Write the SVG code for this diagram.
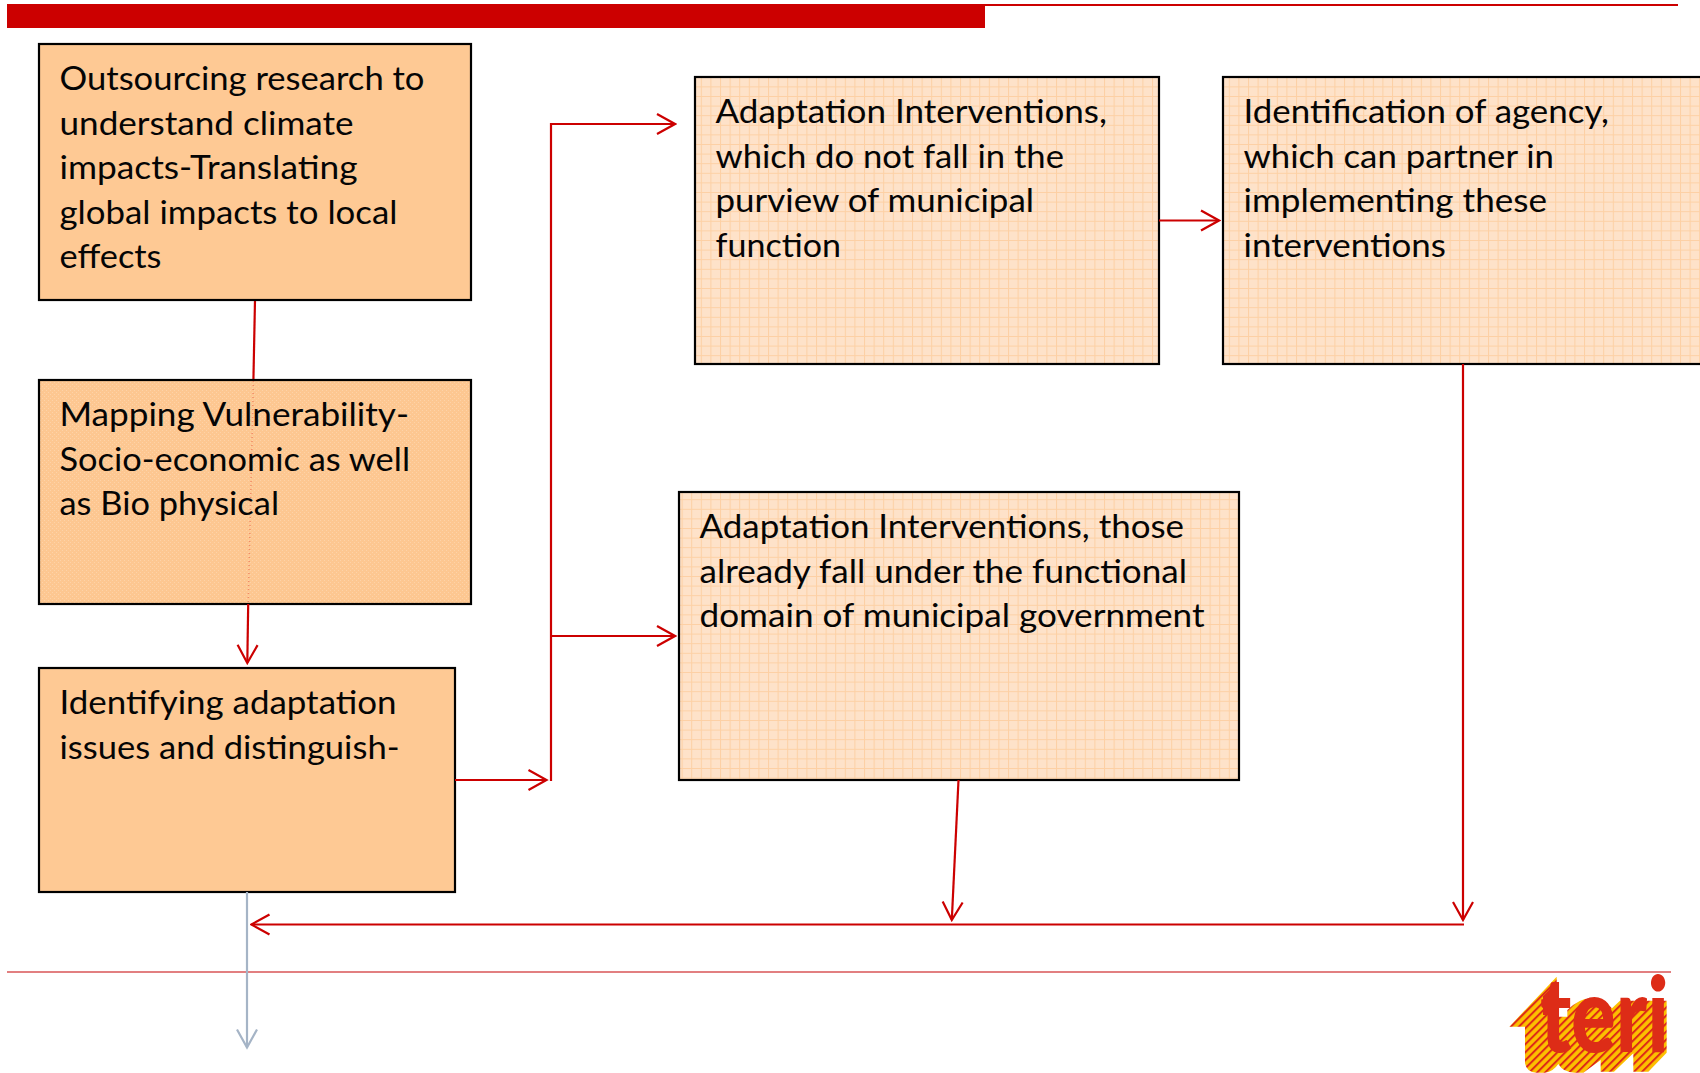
<svg xmlns="http://www.w3.org/2000/svg" width="1700" height="1073" viewBox="0 0 1700 1073">
<style>
.box{stroke:#000;stroke-width:2.2}
.solid{fill:#fec994}
.dot{fill:url(#dots)}
.grid{fill:url(#grid)}
.t{font-family:"Lato","Liberation Sans",sans-serif;font-size:33.5px;fill:#050505}
.c{fill:none;stroke:#cc0000;stroke-width:2.2}
</style>
<defs>
<marker id="a" viewBox="0 0 22 24" refX="20" refY="12" markerWidth="22" markerHeight="24" markerUnits="userSpaceOnUse" orient="auto"><path d="M2 2L20 12L2 22" fill="none" stroke="#cc0000" stroke-width="2.2"/></marker>
<marker id="b" viewBox="0 0 22 24" refX="20" refY="12" markerWidth="22" markerHeight="24" markerUnits="userSpaceOnUse" orient="auto"><path d="M2 2L20 12L2 22" fill="none" stroke="#a5b4c6" stroke-width="2.2"/></marker>
<pattern id="dots" width="4" height="4" patternUnits="userSpaceOnUse"><rect width="4" height="4" fill="#fdc791"/><rect width="1" height="1" fill="#fed3a8"/><rect x="2" y="2" width="1" height="1" fill="#fed3a8"/></pattern>
<pattern id="grid" width="9.6" height="9.6" patternUnits="userSpaceOnUse"><rect width="9.6" height="9.6" fill="#fee2c9"/><path d="M0 .5H9.6M.5 0V9.6" stroke="#fdd0a4" stroke-width="1"/></pattern>
<pattern id="hatch" width="17" height="17" patternUnits="userSpaceOnUse" patternTransform="rotate(-45)"><rect width="17" height="17" fill="#fcc000"/><rect width="17" height="6" fill="#dd2c17"/></pattern>
</defs>
<g id="frame">
<rect x="7" y="4" width="978" height="24" fill="#cc0000"/>
<rect x="985" y="4" width="693" height="2" fill="#cc0000"/>
<rect x="7" y="971" width="1664" height="2" fill="#e27f80"/>
</g>
<g id="connectors-under">
<path class="c" d="M255 300L253.4 381"/>
</g>
<g id="node-outsourcing">
<rect class="box solid" x="39" y="44" width="432" height="256"/>
<text class="t" x="59.5" y="90" textLength="365" lengthAdjust="spacingAndGlyphs">Outsourcing research to</text>
<text class="t" x="59.5" y="134.7" textLength="294" lengthAdjust="spacingAndGlyphs">understand climate</text>
<text class="t" x="59.5" y="179.3" textLength="298" lengthAdjust="spacingAndGlyphs">impacts-Translating</text>
<text class="t" x="59.5" y="223.5" textLength="338" lengthAdjust="spacingAndGlyphs">global impacts to local</text>
<text class="t" x="59.5" y="267.7" textLength="102" lengthAdjust="spacingAndGlyphs">effects</text>
</g>
<g id="node-mapping">
<rect class="box dot" x="39" y="380" width="432" height="224"/>
<path d="M253.4 381L248.2 604" fill="none" stroke="#e8604a" stroke-width="1.5" stroke-dasharray="1 3" opacity=".6"/>
<text class="t" x="59.5" y="426" textLength="349.5" lengthAdjust="spacingAndGlyphs">Mapping Vulnerability-</text>
<text class="t" x="59.5" y="471" textLength="350.5" lengthAdjust="spacingAndGlyphs">Socio-economic as well</text>
<text class="t" x="59.5" y="515" textLength="219.5" lengthAdjust="spacingAndGlyphs">as Bio physical</text>
</g>
<g id="node-identifying">
<rect class="box solid" x="39" y="668" width="416" height="224"/>
<text class="t" x="59.5" y="714" textLength="337" lengthAdjust="spacingAndGlyphs">Identifying adaptation</text>
<text class="t" x="59.5" y="758.7" textLength="340" lengthAdjust="spacingAndGlyphs">issues and distinguish-</text>
</g>
<g id="node-outside-municipal">
<rect class="box grid" x="695" y="77" width="464" height="287"/>
<text class="t" x="715.5" y="122.7" textLength="391.5" lengthAdjust="spacingAndGlyphs">Adaptation Interventions,</text>
<text class="t" x="715.5" y="167.7" textLength="348.5" lengthAdjust="spacingAndGlyphs">which do not fall in the</text>
<text class="t" x="715.5" y="211.7" textLength="318.5" lengthAdjust="spacingAndGlyphs">purview of municipal</text>
<text class="t" x="715.5" y="256.7" textLength="125.5" lengthAdjust="spacingAndGlyphs">function</text>
</g>
<g id="node-agency">
<rect class="box grid" x="1223" y="77" width="490" height="287"/>
<text class="t" x="1243.5" y="122.7" textLength="365.5" lengthAdjust="spacingAndGlyphs">Identification of agency,</text>
<text class="t" x="1243.5" y="167.7" textLength="310.5" lengthAdjust="spacingAndGlyphs">which can partner in</text>
<text class="t" x="1243.5" y="211.7" textLength="303.5" lengthAdjust="spacingAndGlyphs">implementing these</text>
<text class="t" x="1243.5" y="256.7" textLength="202.5" lengthAdjust="spacingAndGlyphs">interventions</text>
</g>
<g id="node-within-municipal">
<rect class="box grid" x="679" y="492" width="560" height="288"/>
<text class="t" x="699.5" y="538" textLength="484.5" lengthAdjust="spacingAndGlyphs">Adaptation Interventions, those</text>
<text class="t" x="699.5" y="583" textLength="487.5" lengthAdjust="spacingAndGlyphs">already fall under the functional</text>
<text class="t" x="699.5" y="627" textLength="505" lengthAdjust="spacingAndGlyphs">domain of municipal government</text>
</g>
<g id="connectors">
<path class="c" d="M248.2 604L247.3 663" marker-end="url(#a)"/>
<path class="c" d="M455 780H546.5" marker-end="url(#a)"/>
<path class="c" d="M551 781V124H675" marker-end="url(#a)"/>
<path class="c" d="M551 636H675" marker-end="url(#a)"/>
<path class="c" d="M1159 220.5H1219" marker-end="url(#a)"/>
<path class="c" d="M1463 364V920" marker-end="url(#a)"/>
<path class="c" d="M958.5 780L951.8 920" marker-end="url(#a)"/>
<path class="c" d="M1464 924.5H251.5" marker-end="url(#a)"/>
<path d="M247 892V1047.5" fill="none" stroke="#a5b4c6" stroke-width="2.2" marker-end="url(#b)"/>
</g>
<g id="logo">
<g transform="translate(1480 960) scale(.3333)">
<path fill="url(#hatch)" d="M230 50L88 200H135V310Q140 338 170 338H195Q220 335 235 312Q250 338 285 338H310L362 300V335H402L460 280V335H505L560 278V122L520 122L500 122H420L396 145Q370 115 330 115Q300 115 262 150V170H232Z"/>
</g>
<polygon fill="#dd2c17" points="1543,1015 1543,996 1557,982 1557,1015"/>
<text x="1540" y="1052" font-family="Lato,Liberation Sans,sans-serif" font-weight="900" font-size="104" fill="#dd2c17" textLength="129" lengthAdjust="spacingAndGlyphs">teri</text>
</g>
</svg>
